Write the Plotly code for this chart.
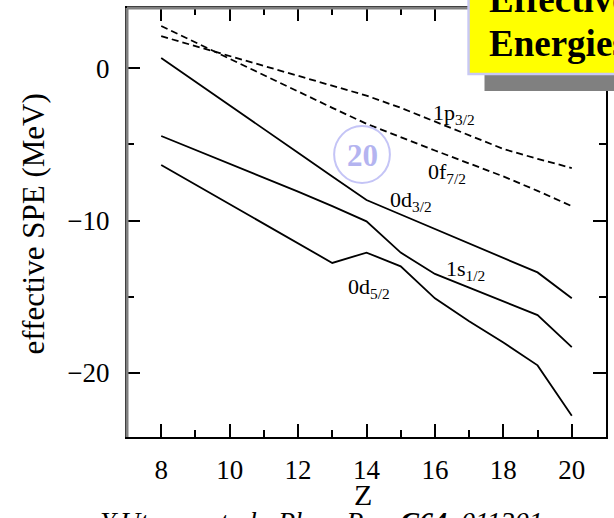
import plotly.graph_objects as go

# ---- data ----
Z = [8, 9, 10, 11, 12, 13, 14, 15, 16, 17, 18, 19, 20]
d52 = [-6.35, -7.64, -8.93, -10.2, -11.5, -12.78, -12.1, -13.0, -15.1, -16.6, -18.0, -19.5, -22.8]
s12 = [-4.45, -5.35, -6.25, -7.15, -8.1, -9.05, -10.05, -12.1, -13.5, -14.4, -15.3, -16.2, -18.3]
d32 = [0.67, -0.9, -2.45, -4.0, -5.55, -7.1, -8.65, -9.6, -10.55, -11.5, -12.45, -13.4, -15.1]
p32 = [2.1, 1.45, 0.8, 0.15, -0.5, -1.15, -1.8, -2.6, -3.5, -4.4, -5.3, -5.95, -6.55]
f72 = [2.77, 1.69, 0.61, -0.47, -1.55, -2.6, -3.65, -4.55, -5.4, -6.25, -7.1, -8.05, -9.05]

labels = ["0d<sub>5/2</sub>", "1s<sub>1/2</sub>", "0d<sub>3/2</sub>", "1p<sub>3/2</sub>", "0f<sub>7/2</sub>"]
label_x = [14.07, 16.9, 15.3, 16.55, 16.35]
label_y = [-14.4, -13.25, -8.7, -3.0, -6.9]
values = [d52, s12, d32, p32, f72]
dashes = ["solid", "solid", "solid", "7px,4px", "7px,4px"]

xtick_vals = [8, 10, 12, 14, 16, 18, 20]
ytick_vals = [0, -10, -20]

W, H = 614, 518
L, R, T, B = 127, 608, 8, 437
PW, PH = R - L, B - T


def PX(px):
    return (px - L) / PW


def PY(py):
    return (B - py) / PH


SERIF = "Liberation Serif, Times New Roman, serif"

fig = go.Figure()
annotations = []
for name, ys, dash, lx, ly in zip(labels, values, dashes, label_x, label_y):
    fig.add_trace(go.Scatter(x=Z, y=ys, mode="lines",
                             line=dict(color="black", width=1.8, dash=dash),
                             showlegend=False, hoverinfo="skip"))
    annotations.append(dict(x=lx, y=ly, xref="x", yref="y", text=name, showarrow=False,
                            font=dict(family=SERIF, size=22, color="black"),
                            xanchor="center", yanchor="middle"))

axis_common = dict(showline=True, mirror="ticks", linecolor="black", linewidth=2,
                   ticks="inside", ticklen=13, tickwidth=2, tickcolor="black",
                   showgrid=False, zeroline=False,
                   tickfont=dict(family=SERIF, size=27, color="black"))

fig.update_xaxes(range=[7, 21], tickvals=xtick_vals, ticklabelstandoff=8,
                 minor=dict(ticks="inside", ticklen=7, tickwidth=2, tickcolor="black",
                            dtick=1, tick0=7, showgrid=False),
                 **axis_common)
fig.update_yaxes(range=[-24.2, 3.95], tickvals=ytick_vals, ticklabelstandoff=10,
                 minor=dict(ticks="inside", ticklen=7, tickwidth=2, tickcolor="black",
                            tickvals=[-5, -15], showgrid=False),
                 **axis_common)

shapes = [
    dict(type="line", xref="paper", yref="paper", x0=PX(127), x1=PX(127), y0=PY(8), y1=PY(437),
         line=dict(color="#808080", width=3), layer="above"),
    dict(type="line", xref="paper", yref="paper", x0=PX(127), x1=PX(608), y0=PY(8), y1=PY(8),
         line=dict(color="#808080", width=3), layer="above"),
    dict(type="rect", xref="paper", yref="paper", x0=PX(486), x1=PX(630), y0=PY(91), y1=PY(75),
         fillcolor="#808080", line=dict(width=0), layer="above"),
    dict(type="rect", xref="paper", yref="paper", x0=PX(470), x1=PX(640), y0=PY(74), y1=PY(-10),
         fillcolor="#ffff00", line=dict(color="#c8c8f4", width=2.5), layer="above"),
    dict(type="circle", xref="paper", yref="paper", x0=PX(335), x1=PX(391), y0=PY(183), y1=PY(126),
         line=dict(color="#c4c4f6", width=2), layer="above"),
]

annotations += [
    dict(x=PX(489), y=PY(0), xref="paper", yref="paper", text="<b>Effective Single-Particle</b>",
         showarrow=False, xanchor="left", yanchor="middle",
         font=dict(family=SERIF, size=37, color="black")),
    dict(x=PX(489), y=PY(43), xref="paper", yref="paper", text="<b>Energies</b>",
         showarrow=False, xanchor="left", yanchor="middle",
         font=dict(family=SERIF, size=37, color="black")),
    dict(x=PX(363), y=PY(155), xref="paper", yref="paper", text="<b>20</b>",
         showarrow=False, xanchor="center", yanchor="middle",
         font=dict(family=SERIF, size=31, color="#b4b4f0")),
    dict(x=PX(33), y=PY(224), xref="paper", yref="paper", text="effective SPE (MeV)",
         showarrow=False, textangle=-90, xanchor="center", yanchor="middle",
         font=dict(family=SERIF, size=31, color="black")),
    dict(x=PX(364), y=PY(494), xref="paper", yref="paper", text="Z",
         showarrow=False, xanchor="center", yanchor="middle",
         font=dict(family=SERIF, size=30, color="black")),
    dict(x=PX(98), y=PY(521), xref="paper", yref="paper",
         text="<i>Y.Utsuno et al., Phys. Rev. <b>C64</b>, 011301</i>",
         showarrow=False, xanchor="left", yanchor="middle",
         font=dict(family=SERIF, size=28, color="black")),
]

fig.update_layout(width=W, height=H, margin=dict(l=L, r=W - R, t=T, b=H - B),
                  paper_bgcolor="white", plot_bgcolor="white",
                  shapes=shapes, annotations=annotations)

fig.write_html("out.html")
